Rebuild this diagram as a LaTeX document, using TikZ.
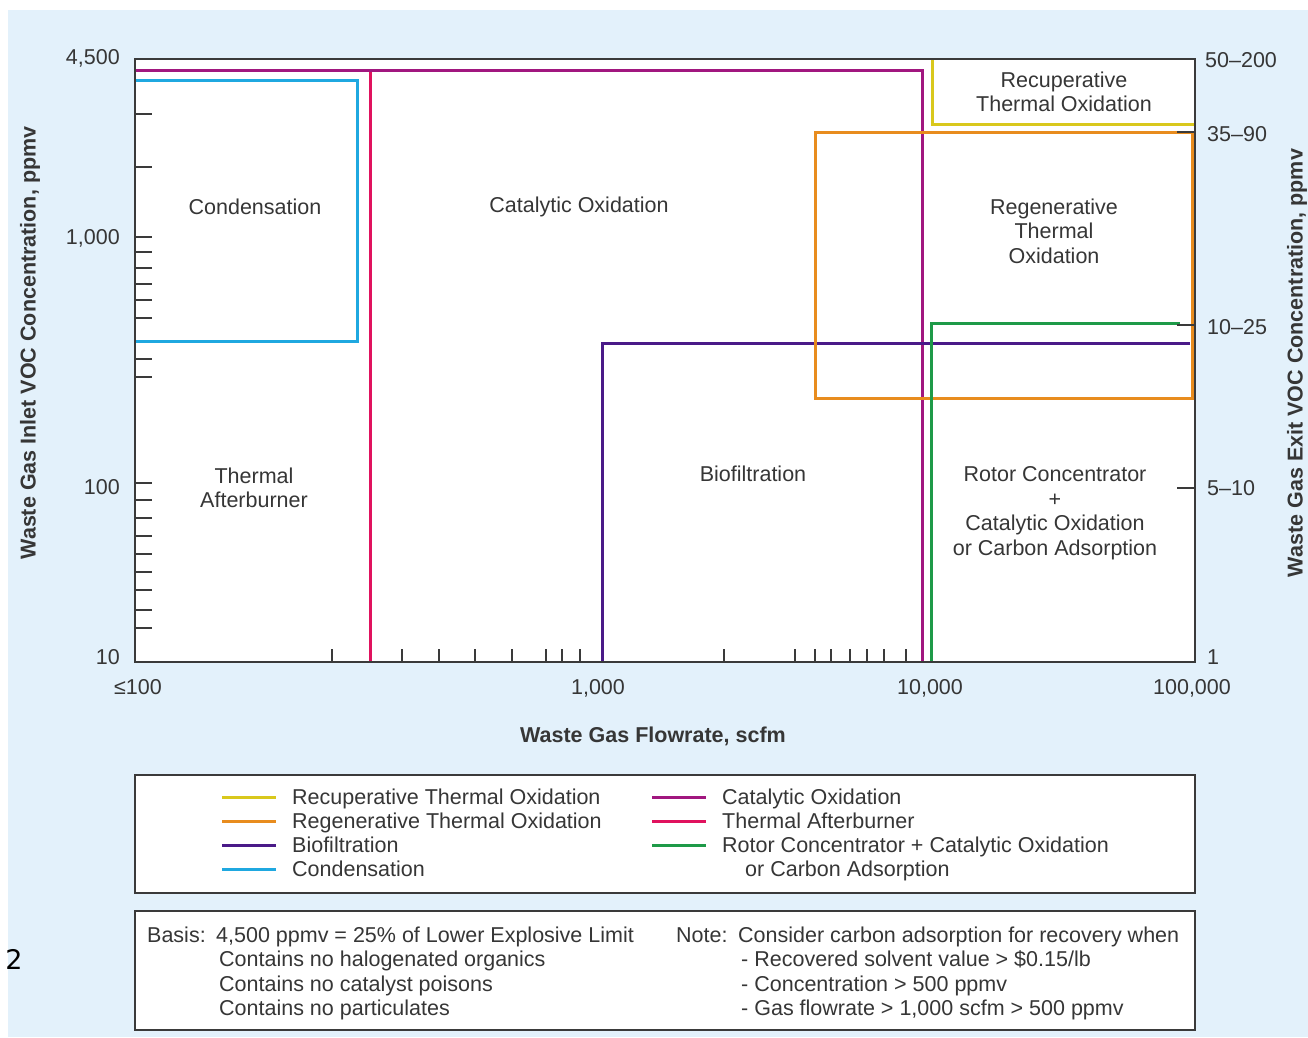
\documentclass[tikz,border=0pt]{standalone}
\usepackage{fontspec}
\setmainfont{Liberation Sans}
\newfontfamily\twofont{DejaVu Sans}
\definecolor{bgblue}{HTML}{E3F1FB}
\definecolor{txt}{HTML}{363636}
\definecolor{framec}{HTML}{3A3A3A}
\definecolor{cYel}{HTML}{D9C81C}
\definecolor{cOra}{HTML}{E88C1E}
\definecolor{cPur}{HTML}{4A1A88}
\definecolor{cCya}{HTML}{1FA8E0}
\definecolor{cMag}{HTML}{A1177F}
\definecolor{cRed}{HTML}{E0125E}
\definecolor{cGre}{HTML}{1E9A48}
\begin{document}
\begin{tikzpicture}[x=1pt,y=-1pt,
  font=\fontsize{21.5}{24.5}\selectfont,
  every node/.style={text=txt, inner sep=0pt, text height=15.5pt, text depth=0.5pt},
  multi/.style={align=center, text height=, text depth=},
  ser/.style={line width=3pt, line cap=butt, line join=miter},
  tk/.style={line width=1.8pt, draw=framec},
  boxc/.style={line width=2pt, draw=framec},
  ttl/.style={font=\fontsize{21.5}{24.5}\selectfont\bfseries}]
\useasboundingbox (0,0) rectangle (1308,1037);
\fill[white] (0,0) rectangle (1308,1037);
\fill[bgblue] (8,10) rectangle (1308,1037);
\fill[white] (135,59) rectangle (1195,662);

% series lines
\draw[ser, cCya] (135,80) -- (357,80) -- (357,341) -- (135,341);
\draw[ser, cRed] (370,70) -- (370,662);
\draw[ser, cMag] (135,70) -- (922,70) -- (922,662);
\draw[ser, cPur] (602,662) -- (602,343) -- (1190,343);
\draw[ser, cOra] (815,132) rectangle (1192,398);
\draw[ser, cYel] (932,59) -- (932,124) -- (1195,124);
\draw[ser, cGre] (931,662) -- (931,323) -- (1180,323);

% ticks
\foreach \x in {332,402,439,475,512,546,562,580,724,795,815,831,850,867,884,906}
  \draw[tk] (\x,662) -- (\x,649);
\foreach \y in {114,167,237,252,268,284,300,318,359,377,483,500,518,536,554,572,590,610,628}
  \draw[tk] (135,\y) -- (152,\y);
\foreach \y in {132,325,488}
  \draw[tk] (1177,\y) -- (1195,\y);

% frame
\draw[boxc] (135,59) rectangle (1195,662);

% axis labels
\node[anchor=east] (yl1) at (120,57) {4,500};
\node[anchor=east] (yl2) at (120,237) {1,000};
\node[anchor=east] (yl3) at (120,487) {100};
\node[anchor=east] (yl4) at (120,657) {10};
\node (xl1) at (138,687) {≤100};
\node (xl2) at (598,687) {1,000};
\node (xl3) at (930,687) {10,000};
\node (xl4) at (1192,687) {100,000};
\node[anchor=west] (rl1) at (1205,60) {50–200};
\node[anchor=west] (rl2) at (1207,134) {35–90};
\node[anchor=west] (rl3) at (1207,327) {10–25};
\node[anchor=west] (rl4) at (1207,488) {5–10};
\node[anchor=west] (rl5) at (1207,657) {1};
\node[ttl] (xt) at (653,735) {Waste Gas Flowrate, scfm};
\node[ttl, rotate=90, text height=, text depth=] (ytl) at (30,343) {Waste Gas Inlet VOC Concentration, ppmv};
\node[ttl, rotate=90, text height=, text depth=] (ytr) at (1297,363) {Waste Gas Exit VOC Concentration, ppmv};

% region labels
\node (cond) at (255,207) {Condensation};
\node (cat) at (579,205) {Catalytic Oxidation};
\node[multi] (recu) at (1064,92) {Recuperative\\Thermal Oxidation};
\node[multi] (rege) at (1054,231) {Regenerative\\Thermal\\Oxidation};
\node[multi] (ta) at (254,488) {Thermal\\Afterburner};
\node (bio) at (753,474) {Biofiltration};
\node[multi] (rotor) at (1055,513) {Rotor Concentrator\\+\\Catalytic Oxidation\\or Carbon Adsorption};

% legend box
\draw[boxc, fill=white] (135,775) rectangle (1195,893);
\foreach \c/\y in {cYel/797, cOra/821, cPur/845, cCya/869}
  \draw[ser, \c] (222,\y) -- (276,\y);
\foreach \c/\y in {cMag/797, cRed/821, cGre/845}
  \draw[ser, \c] (652,\y) -- (706,\y);
\node[anchor=west] (lg1) at (292,797) {Recuperative Thermal Oxidation};
\node[anchor=west] (lg2) at (292,821) {Regenerative Thermal Oxidation};
\node[anchor=west] (lg3) at (292,845) {Biofiltration};
\node[anchor=west] (lg4) at (292,869) {Condensation};
\node[anchor=west] (lg5) at (722,797) {Catalytic Oxidation};
\node[anchor=west] (lg6) at (722,821) {Thermal Afterburner};
\node[anchor=west] (lg7) at (722,845) {Rotor Concentrator + Catalytic Oxidation};
\node[anchor=west] (lg8) at (745,869) {or Carbon Adsorption};

% note box
\draw[boxc, fill=white] (135,911) rectangle (1195,1030);
\node[anchor=west] (b0) at (147,935) {Basis:};
\node[anchor=west] (b1) at (216,935) {4,500 ppmv = 25\% of Lower Explosive Limit};
\node[anchor=west] (b2) at (219,959) {Contains no halogenated organics};
\node[anchor=west] (b3) at (219,984) {Contains no catalyst poisons};
\node[anchor=west] (b4) at (219,1008) {Contains no particulates};
\node[anchor=west] (n0) at (676,935) {Note:};
\node[anchor=west] (n1) at (738,935) {Consider carbon adsorption for recovery when};
\node[anchor=west] (n2) at (741,959) {- Recovered solvent value > \$0.15/lb};
\node[anchor=west] (n3) at (741,984) {- Concentration > 500 ppmv};
\node[anchor=west] (n4) at (741,1008) {- Gas flowrate > 1,000 scfm > 500 ppmv};

\node[text=black, font=\twofont\fontsize{27}{29}\selectfont] (two) at (14,962) {2};
\end{tikzpicture}
\end{document}
